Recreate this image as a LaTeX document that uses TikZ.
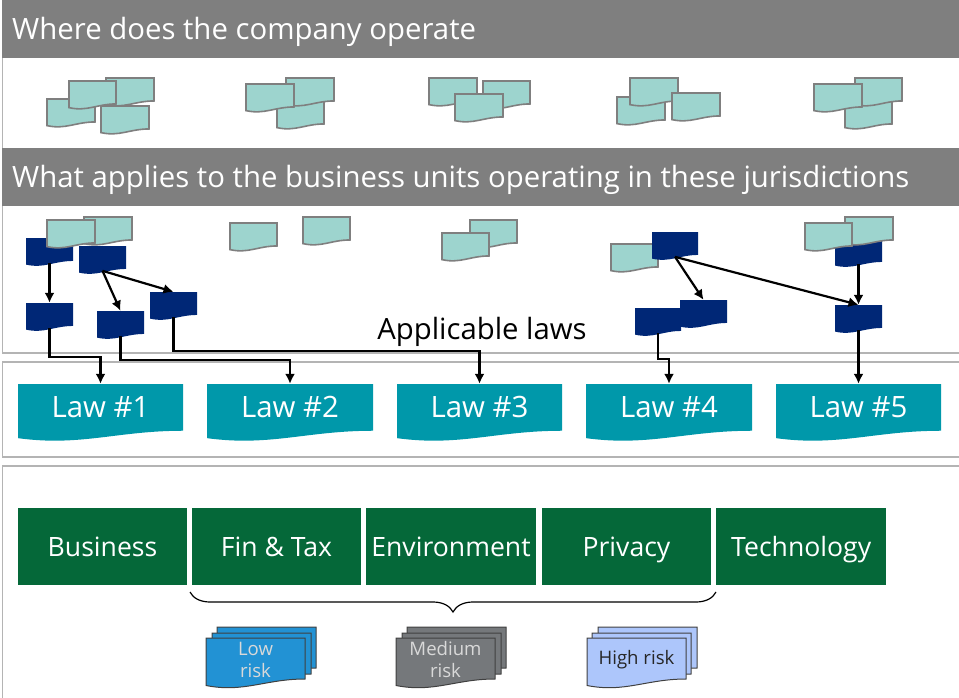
\documentclass[tikz,border=0pt]{standalone}
\usepackage{fontspec}
\setmainfont{Open Sans}
\usetikzlibrary{arrows.meta, decorations.pathreplacing}

\definecolor{bandgray}{HTML}{7F7F7F}
\definecolor{framegray}{HTML}{B4B4B4}
\definecolor{sitefill}{HTML}{9DD4CE}
\definecolor{unitblue}{HTML}{002776}
\definecolor{lawteal}{HTML}{0098AA}
\definecolor{deptgreen}{HTML}{056839}
\definecolor{lowblue}{HTML}{2292D4}
\definecolor{medgray}{HTML}{75787B}
\definecolor{highblue}{HTML}{ADC6FB}

% style, name, left, top, width, height, text
\newcommand{\wavedoc}[7]{
  \path [#1] (#3,#4) -- ({#3+#5},#4) -- ({#3+#5},{#4+0.82*#6})
    .. controls ({#3+0.6*#5},{#4+0.82*#6}) and ({#3+0.38*#5},{#4+1.1*#6}) .. (#3,{#4+0.95*#6}) -- cycle;
  \node [docbox, #1, draw=none, fill=none, minimum width=#5pt, minimum height={0.88*#6pt}]
    (#2) at ({#3+0.5*#5},{#4+0.44*#6}) {#7};
}

\begin{document}
\begin{tikzpicture}[
  x=1pt, y=-1pt,
  docbox/.style={rectangle, inner sep=0pt, align=center},
  bandtext/.style={text=white, anchor=west, inner sep=0pt, font=\fontsize{29.35}{29.35}\selectfont},
  framer/.style={draw=framegray, line width=1.2pt},
  site/.style={fill=sitefill, draw=bandgray, line width=1.6pt},
  unit/.style={fill=unitblue, draw=none},
  lawdoc/.style={fill=lawteal, draw=none, text=white, text height=22pt, text depth=5pt, font=\fontsize{29.4}{29.4}\selectfont},
  dept/.style={rectangle, fill=deptgreen, text=white, inner sep=0pt, text height=23pt, text depth=4pt, minimum width=169.5pt, minimum height=77pt, font=\fontsize{26.6}{26.6}\selectfont},
  lowdoc/.style={fill=lowblue, draw=black!75, line width=1pt, text=white!85!black, font=\fontsize{18.6}{22}\selectfont},
  meddoc/.style={fill=medgray, draw=black!75, line width=1pt, text=white!85!black, font=\fontsize{18.6}{22}\selectfont},
  highdoc/.style={fill=highblue, draw=black!75, line width=1pt, text=black!85, font=\fontsize{18.6}{22}\selectfont},
  arw/.style={-{Latex[length=10pt,width=10pt]}, line width=2.2pt}
  ]

\useasboundingbox (0,0) rectangle (959,698);

\draw [framer] (959,353) -- (2.5,353) -- (2.5,0);
\draw [framer] (959,362) -- (2.5,362) -- (2.5,457) -- (959,457);
\draw [framer] (959,466) -- (2.5,466) -- (2.5,698);

\fill [bandgray] (2,0) rectangle (959,58);
\fill [bandgray] (2,148) rectangle (959,206);
\node [bandtext] (where) at (12,32) {Where does the company operate};
\node [bandtext] (what) at (12,180) {What applies to the business units operating in these jurisdictions};

\wavedoc{site}{a1}{47}{99}{48}{28}{}
\wavedoc{site}{a2}{106}{78}{48}{28}{}
\wavedoc{site}{a3}{69}{81}{47}{28}{}
\wavedoc{site}{a4}{101}{106}{48}{28}{}

\wavedoc{site}{b1}{277}{101}{47}{28}{}
\wavedoc{site}{b2}{286}{78}{48}{28}{}
\wavedoc{site}{b3}{246}{84}{48}{28}{}

\wavedoc{site}{c1}{483}{81}{47}{28}{}
\wavedoc{site}{c2}{429}{78}{48}{28}{}
\wavedoc{site}{c3}{455}{94}{48}{28}{}

\wavedoc{site}{d1}{617}{97}{48}{28}{}
\wavedoc{site}{d2}{630}{78}{48}{28}{}
\wavedoc{site}{d3}{672}{93}{48}{28}{}

\wavedoc{site}{e1}{845}{101}{47}{28}{}
\wavedoc{site}{e2}{855}{78}{47}{28}{}
\wavedoc{site}{e3}{814}{84}{48}{28}{}

\wavedoc{unit}{u1}{26}{238}{47}{28}{}
\wavedoc{site}{f1}{84}{217}{48}{28}{}
\wavedoc{site}{f2}{47}{220}{48}{28}{}
\wavedoc{unit}{u2}{79}{246}{47}{28}{}
\wavedoc{unit}{u3}{26}{303}{47}{28}{}
\wavedoc{unit}{u4}{97}{311}{47}{28}{}
\wavedoc{unit}{u5}{150}{292}{47}{28}{}

\wavedoc{site}{g1}{230}{223}{47}{28}{}
\wavedoc{site}{g2}{303}{217}{47}{28}{}

\wavedoc{site}{h1}{470}{220}{47}{28}{}
\wavedoc{site}{h2}{442}{233}{47}{28}{}

\wavedoc{site}{i1}{611}{244}{47}{28}{}
\wavedoc{unit}{u6}{652}{232}{46}{28}{}
\wavedoc{unit}{u7}{680}{300}{47}{28}{}
\wavedoc{unit}{u8}{635}{308}{46}{28}{}

\wavedoc{unit}{u9}{835}{239}{47}{28}{}
\wavedoc{site}{j1}{845}{217}{48}{28}{}
\wavedoc{site}{j2}{805}{223}{47}{28}{}
\wavedoc{unit}{u10}{835}{305}{47}{28}{}

\node [inner sep=0pt, font=\fontsize{29.3}{29.3}\selectfont] (applic) at (482,332) {Applicable laws};

\wavedoc{lawdoc}{law1}{18}{384}{165}{57}{Law \#1}
\wavedoc{lawdoc}{law2}{207}{384}{166}{57}{Law \#2}
\wavedoc{lawdoc}{law3}{397}{384}{165}{57}{Law \#3}
\wavedoc{lawdoc}{law4}{586}{384}{166}{57}{Law \#4}
\wavedoc{lawdoc}{law5}{776}{384}{165}{57}{Law \#5}

\draw [arw] (u1.south) -- (u3.north);
\draw [arw] (u2.south) -- (u4.north);
\draw [arw] (u2.south) -- (u5.north);
\draw [arw] (u6.south) -- (u7.north);
\draw [arw] (u6.south) -- (u10.north);
\draw [arw] (u9.south) -- (u10.north);

\draw [arw] (u3.south) -- ++(0,29) -| (law1.north);
\draw [arw] (u4.south) -- ++(0,24) -| (law2.north);
\draw [arw] (u5.south) -- ++(0,34) -| (law3.north);
\draw [arw] (u8.south) -- ++(0,26.5) -| (law4.north);
\draw [arw] (u10.south) -- (law5.north);

\node [dept] (biz) at (102.5,546.5) {Business};
\node [dept] (fin) at (276.5,546.5) {Fin \& Tax};
\node [dept] (env) at (451,546.5) {Environment};
\node [dept] (pri) at (626.5,546.5) {Privacy};
\node [dept] (tec) at (801.2,546.5) {Technology};

\draw [decorate, decoration={brace, mirror, amplitude=20pt}, line width=1.2pt] (190,592) -- (716,592);

\wavedoc{lowdoc}{l1}{217}{627}{99}{50}{}
\wavedoc{lowdoc}{l2}{212}{633}{99}{50}{}
\wavedoc{lowdoc}{l3}{206}{638}{99}{50}{Low\\risk}

\wavedoc{meddoc}{m1}{407}{627}{99}{50}{}
\wavedoc{meddoc}{m2}{402}{633}{99}{50}{}
\wavedoc{meddoc}{m3}{396}{638}{99}{50}{Medium\\risk}

\wavedoc{highdoc}{r1}{598}{627}{99}{50}{}
\wavedoc{highdoc}{r2}{592}{633}{99}{50}{}
\wavedoc{highdoc}{r3}{587}{638}{99}{50}{High risk}

\end{tikzpicture}
\end{document}
